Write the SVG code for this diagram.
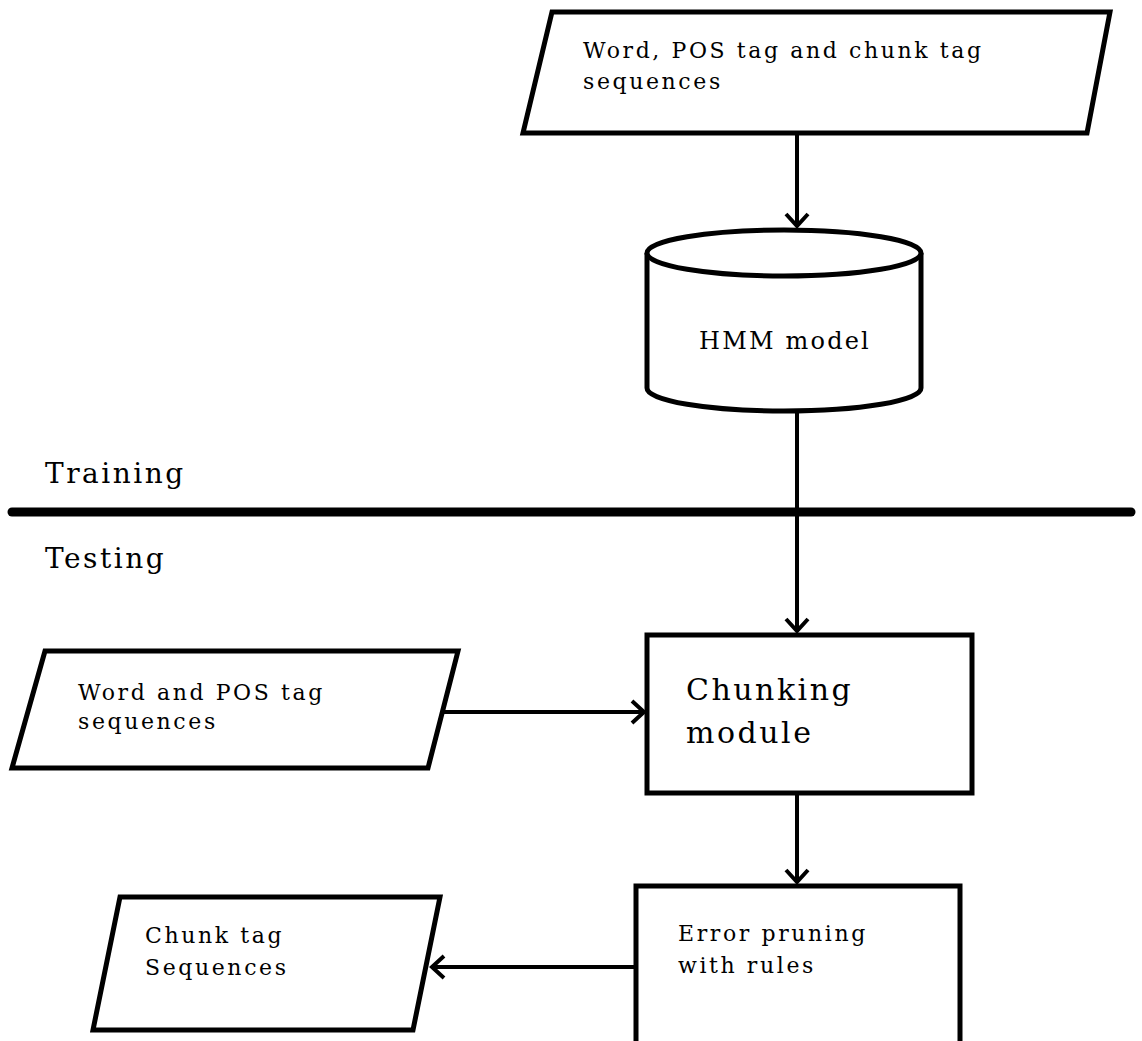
<svg xmlns="http://www.w3.org/2000/svg" width="1142" height="1041" viewBox="0 0 1142 1041">
<style>
.s{fill:#fff;stroke:#000;stroke-width:5;stroke-linejoin:miter}
.c{fill:none;stroke:#000;stroke-width:4}
.t{font-family:"DejaVu Serif","Liberation Serif",serif;fill:#000}
.t20{font-size:22px;letter-spacing:2.6px}
.t26{font-size:28px;letter-spacing:2.5px}
</style>
<defs>
<marker id="ah" markerWidth="10" markerHeight="10" refX="8" refY="5" orient="auto" markerUnits="userSpaceOnUse" viewBox="0 0 10 10" overflow="visible">
<path d="M-4,-6 L8,5 L-4,16" fill="none" stroke="#000" stroke-width="4"/>
</marker>
</defs>
<g id="connectors">
<line class="c" x1="797" y1="135" x2="797" y2="226" marker-end="url(#ah)"/>
<line class="c" x1="797" y1="411" x2="797" y2="631" marker-end="url(#ah)"/>
<line class="c" x1="443" y1="712" x2="644" y2="712" marker-end="url(#ah)"/>
<line class="c" x1="797" y1="795" x2="797" y2="882" marker-end="url(#ah)"/>
<line class="c" x1="636" y1="967" x2="432" y2="967" marker-end="url(#ah)"/>
</g>
<g id="divider">
<line x1="12" y1="512" x2="1131" y2="512" stroke="#000" stroke-width="9" stroke-linecap="round"/>
<text class="t t26" x="45" y="483">Training</text>
<text class="t t26" x="45" y="568">Testing</text>
</g>
<g id="input-train">
<polygon class="s" points="552,12 1110,12 1087,133 523,133"/>
<text class="t t20" x="583" y="58">Word, POS tag and chunk tag</text>
<text class="t t20" x="583" y="89">sequences</text>
</g>
<g id="hmm">
<path class="s" d="M647,253 L647,388 A137,23 0 0 0 921,388 L921,253"/>
<ellipse class="s" cx="784" cy="253" rx="137" ry="23"/>
<text class="t" x="785" y="349" font-size="24" letter-spacing="2.2" text-anchor="middle">HMM model</text>
</g>
<g id="input-test">
<polygon class="s" points="45,651 458,651 428,768 12,768"/>
<text class="t t20" x="78" y="700">Word and POS tag</text>
<text class="t t20" x="78" y="729">sequences</text>
</g>
<g id="chunking">
<rect class="s" x="647" y="635" width="325" height="158"/>
<text class="t" x="686" y="700" font-size="30" letter-spacing="2.5">Chunking</text>
<text class="t" x="686" y="743" font-size="30" letter-spacing="2.5">module</text>
</g>
<g id="pruning">
<rect class="s" x="636" y="886" width="324" height="170"/>
<text class="t t20" x="678" y="941">Error pruning</text>
<text class="t t20" x="678" y="973">with rules</text>
</g>
<g id="output">
<polygon class="s" points="120,897 440,897 413,1030 93,1030"/>
<text class="t t20" x="145" y="943">Chunk tag</text>
<text class="t t20" x="145" y="975">Sequences</text>
</g>
</svg>
